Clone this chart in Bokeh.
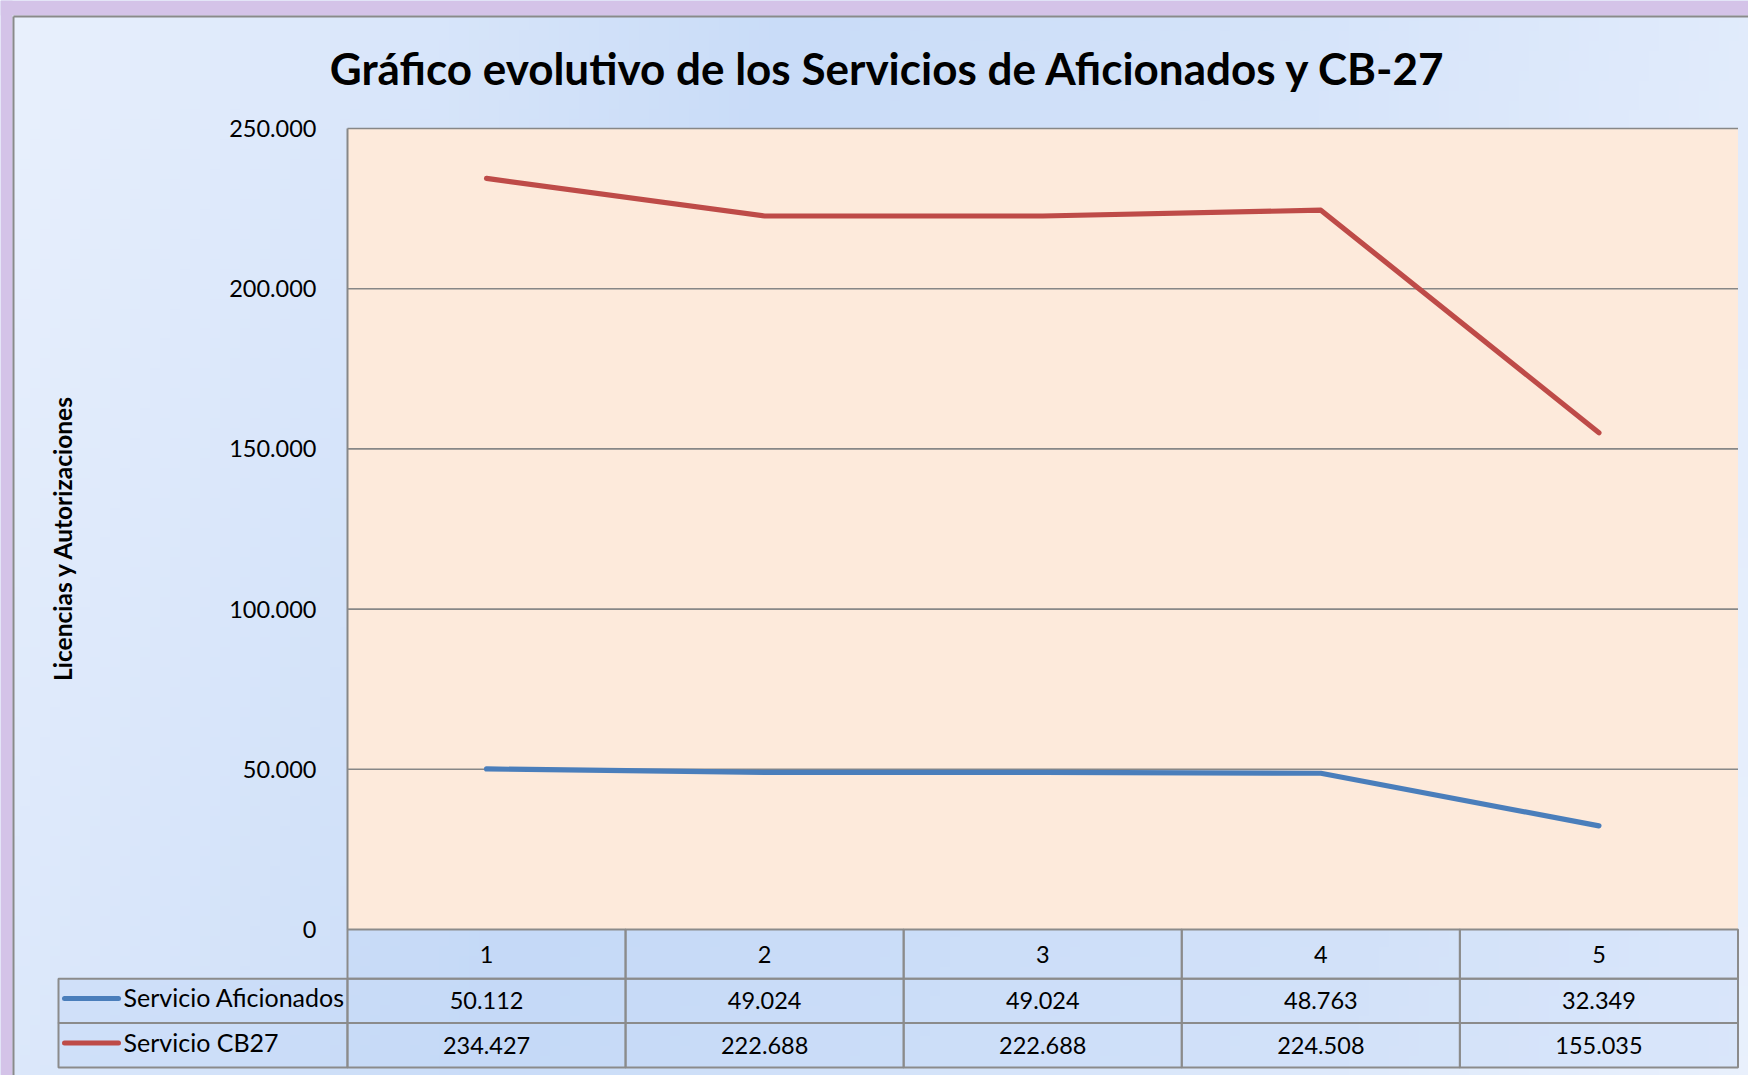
import numpy as np
from bokeh.plotting import figure
from bokeh.models import Range1d, FixedTicker
from bokeh.core.properties import value
from bokeh.embed import file_html
from bokeh.resources import INLINE

# ---------------- data ----------------
periods = [1, 2, 3, 4, 5]
period_labels = ["1", "2", "3", "4", "5"]
aficionados = [50112, 49024, 49024, 48763, 32349]
cb27 = [234427, 222688, 222688, 224508, 155035]
series_names = ["Servicio Aficionados", "Servicio CB27"]
series_colors = ["#4a7ebb", "#be4b48"]
y_ticks = [0, 50000, 100000, 150000, 200000, 250000]
y_tick_labels = ["0", "50.000", "100.000", "150.000", "200.000", "250.000"]
chart_title = "Gráfico evolutivo de los Servicios de Aficionados y CB-27"
y_title = "Licencias y Autorizaciones"

def fmt(v):
    return f"{v:,}".replace(",", ".")

# ---------------- layout (pixels, top-down) ----------------
W, H = 1748, 1075
PL, PR = 347.0, 1737.5      # plot area left / right
PT, PB = 128.0, 929.0       # plot area top / bottom (value 0)
TB = 1067.0                 # table bottom
LEGL = 58.0                 # legend column left
Y_MAX = y_ticks[-1]
NROWS = 3
ROW_PX = (TB - PB) / NROWS
row_edges = [0.0, 1.07, 2.03, 3.0]   # header, series rows (table units)

ppx = (PR - PL) / len(periods)
ppy = (PB - PT) / Y_MAX
x0 = (periods[0] - 0.5) - PL / ppx
x1 = x0 + W / ppx
y1 = Y_MAX + PT / ppy
y0 = -(H - PB) / ppy

def X(px):
    return x0 + px / ppx

def Y(py):
    return y1 - py / ppy

p = figure(width=W, height=H, x_range=Range1d(x0, x1), y_range=Range1d(y0, y1),
           output_backend="svg", toolbar_location=None, x_axis_location=None,
           y_axis_location="left", min_border=0)
p.extra_y_ranges = {"tbl": Range1d(start=NROWS + (H - TB) / ROW_PX, end=-PB / ROW_PX)}
p.grid.visible = False
p.outline_line_color = None
p.background_fill_color = "#d9e6fb"
p.border_fill_color = "#d9e6fb"

# ---------------- background gradient ----------------
nx, ny = 175, 108
jj = (np.arange(nx) + 0.5) * W / nx
ii = H - (np.arange(ny) + 0.5) * H / ny
PX, PY = np.meshgrid(jj, ii)
s = PX + 0.3 * PY
peak = 800.0
t = np.where(s < peak, s / peak, 1 - (s - peak) / 1300.0)
t = np.clip(t, 0, 1)
light = np.array([234, 241, 253])
dark = np.array([201, 220, 248])
img = np.zeros((ny, nx), dtype=np.uint32)
view = img.view(dtype=np.uint8).reshape((ny, nx, 4))
for k in range(3):
    view[:, :, k] = (light[k] + (dark[k] - light[k]) * t).astype(np.uint8)
view[:, :, 3] = 255
p.image_rgba(image=[img], x=x0, y=y0, dw=x1 - x0, dh=y1 - y0, level="image")

# outer frame (purple glow + grey line)
p.quad(left=[x0, x0], right=[X(12), x1], top=[y1, y1], bottom=[y0, Y(15)],
       fill_color="#d4c3e8", line_color=None)
p.segment(x0=[X(13), X(13)], y0=[y0, Y(16)], x1=[X(13), x1], y1=[Y(16), Y(16)],
          line_color="#8a8a8a", line_width=2)

# ---------------- plot area ----------------
left_edge = periods[0] - 0.5
right_edge = periods[-1] + 0.5
p.quad(left=[left_edge], right=[right_edge], bottom=[0], top=[Y_MAX],
       fill_color="#fdeadb", line_color=None)
grid_vals = [v for v in y_ticks if v > 0]
p.segment(x0=[left_edge] * len(grid_vals), x1=[right_edge] * len(grid_vals),
          y0=grid_vals, y1=grid_vals, line_color="#878787", line_width=1.6)
p.segment(x0=[left_edge], x1=[left_edge], y0=[0], y1=[Y_MAX],
          line_color="#878787", line_width=2)

for vals, col in zip([aficionados, cb27], series_colors):
    p.line(periods, vals, line_color=col, line_width=5.2,
           line_cap="round", line_join="round")

# ---------------- y axis ----------------
yax = p.yaxis[0]
yax.fixed_location = left_edge
yax.ticker = FixedTicker(ticks=y_ticks)
yax.major_label_overrides = dict(zip(y_ticks, y_tick_labels))
yax.axis_line_color = None
yax.major_tick_line_color = None
yax.minor_tick_line_color = None
yax.major_tick_out = 0
yax.major_tick_in = 0
yax.major_label_standoff = 31
yax.major_label_text_font = "Lato"
yax.major_label_text_font_size = "23.5px"
yax.major_label_text_color = "#000000"
yax.axis_label = y_title
yax.axis_label_text_font = "Lato"
yax.axis_label_text_font_style = "bold"
yax.axis_label_text_font_size = "24.5px"
yax.axis_label_text_color = "#000000"
yax.axis_label_standoff = 149

# ---------------- data table ----------------
cell_fill = "#bdd3f6"
cell_line = "#8b8b8b"
mids = [(row_edges[i] + row_edges[i + 1]) / 2 for i in range(NROWS)]
# header row
p.quad(left=[v - 0.5 for v in periods], right=[v + 0.5 for v in periods],
       top=[row_edges[0]] * len(periods), bottom=[row_edges[1]] * len(periods),
       y_range_name="tbl", fill_color=cell_fill, fill_alpha=0.35,
       line_color=cell_line, line_width=2)
for r in (1, 2):
    p.quad(left=[X(LEGL)] + [v - 0.5 for v in periods],
           right=[left_edge] + [v + 0.5 for v in periods],
           top=[row_edges[r]] * (len(periods) + 1),
           bottom=[row_edges[r + 1]] * (len(periods) + 1),
           y_range_name="tbl", fill_color=cell_fill, fill_alpha=0.35,
           line_color=cell_line, line_width=2)

txt = dict(text_font=value("Lato"), text_font_size="23.5px", text_color="#000000",
           text_align="center", text_baseline="middle", y_range_name="tbl")
p.text(x=periods, y=[mids[0]] * len(periods), text=period_labels, **txt)
for r, vals in ((1, aficionados), (2, cb27)):
    p.text(x=periods, y=[mids[r]] * len(periods), text=[fmt(v) for v in vals], **txt)

# legend keys in the table
p.segment(x0=[X(64)] * 2, x1=[X(118)] * 2, y0=[mids[1] - 0.05, mids[2] - 0.05],
          y1=[mids[1] - 0.05, mids[2] - 0.05], line_color=series_colors,
          line_width=5, line_cap="round", y_range_name="tbl")
p.text(x=[X(123)] * 2, y=[mids[1] - 0.08, mids[2] - 0.08], text=series_names,
       text_font=value("Lato"), text_font_size="25px", text_color="#000000",
       text_align="left", text_baseline="middle", y_range_name="tbl")

# ---------------- title ----------------
p.text(x=[X(888)], y=[Y(67)], text=[chart_title], text_font=value("Lato"),
       text_font_style="bold", text_font_size="44px", text_color="#000000",
       text_align="center", text_baseline="middle")

open("out.html", "w").write(file_html(p, INLINE))
